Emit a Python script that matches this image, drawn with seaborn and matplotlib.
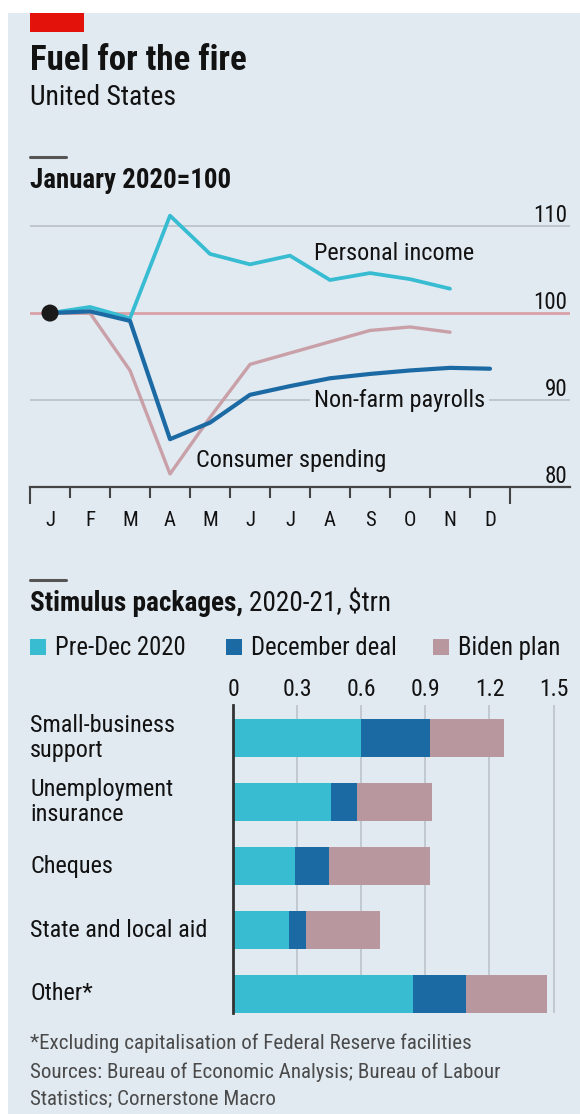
import numpy as np
import pandas as pd
import matplotlib
matplotlib.use("Agg")
import matplotlib.pyplot as plt
import seaborn as sns
from matplotlib import font_manager, transforms
from matplotlib.patches import Rectangle
from matplotlib.lines import Line2D

# ---------------- data ----------------
months = ["J", "F", "M", "A", "M", "J", "J", "A", "S", "O", "N", "D"]
personal_income = [100.0, 100.7, 99.4, 111.2, 106.8, 105.6, 106.6, 103.8, 104.6, 103.9, 102.8]
nonfarm_payrolls = [100.0, 100.2, 99.1, 85.5, 87.4, 90.6, 91.6, 92.5, 93.0, 93.4, 93.7, 93.6]
consumer_spending = [100.0, 100.0, 93.4, 81.5, 88.0, 94.1, 95.4, 96.7, 98.0, 98.4, 97.8]
index_ticks = [80, 90, 100, 110]

categories = ["Small-business\nsupport", "Unemployment\ninsurance", "Cheques",
              "State and local aid", "Other*"]
pre_dec_2020 = [0.60, 0.46, 0.29, 0.26, 0.84]
december_deal = [0.32, 0.12, 0.16, 0.08, 0.25]
biden_plan = [0.35, 0.35, 0.47, 0.35, 0.38]
trn_ticks = [0, 0.3, 0.6, 0.9, 1.2, 1.5]
trn_labels = ["0", "0.3", "0.6", "0.9", "1.2", "1.5"]

# ---------------- style ----------------
BG = "#e1e9f1"
CYAN = "#37bcd2"
DARK = "#1c6aa4"
PINK_BAR = "#b9979f"
PINK_LINE = "#c9a0a8"
RED_LINE = "#d9a2a8"
GRID = "#bfc6ce"
TEXT = "#121212"
NOTE = "#4a4a4a"


def pick_font(cands):
    for c in cands:
        try:
            font_manager.findfont(font_manager.FontProperties(family=c),
                                  fallback_to_default=False)
            return c
        except Exception:
            pass
    return "DejaVu Sans"


FONT = pick_font(["Liberation Sans Narrow", "Roboto Condensed", "Open Sans Condensed", "Lato"])

sns.set_theme(style="white")
plt.rcParams["font.family"] = [FONT, "DejaVu Sans"]

W, H = 580, 1114
fig = plt.figure(figsize=(W / 100, H / 100), dpi=100)
fig.patch.set_facecolor("white")


def rect(x0, y0, x1, y1):
    return [x0 / W, 1 - y1 / H, (x1 - x0) / W, (y1 - y0) / H]


def fx(x):
    return x / W


def fy(y):
    return 1 - y / H


# panel background and red tag
fig.add_artist(Rectangle((fx(8), 0), 1 - fx(8), fy(13), transform=fig.transFigure,
                         facecolor=BG, edgecolor="none", zorder=0))
fig.add_artist(Rectangle((fx(30), fy(32)), fx(84) - fx(30), fy(13) - fy(32),
                         transform=fig.transFigure, facecolor="#e3120b",
                         edgecolor="none", zorder=1))

fig.canvas.draw()
renderer = fig.canvas.get_renderer()


def size_for(s, width_px, weight="normal"):
    t = fig.text(0, 0, s, fontsize=20, fontweight=weight)
    w = t.get_window_extent(renderer=renderer).width
    t.remove()
    return 20 * width_px / w


fs_title = size_for("Fuel for the fire", 216, "bold")
fs_sub = size_for("United States", 146)
fs_head = size_for("January 2020=100", 201, "semibold")
fs_line_lab = size_for("Personal income", 160)
fs_axis = size_for("110", 34)
fs_cat = size_for("State and local aid", 177)
fs_leg = size_for("December deal", 146)
fs_note = size_for("Sources: Bureau of Economic Analysis; Bureau of Labour", 470)

# ---------------- header ----------------
fig.text(fx(30), fy(70), "Fuel for the fire", fontsize=fs_title, fontweight="bold",
         color=TEXT, va="baseline")
fig.text(fx(30), fy(105), "United States", fontsize=fs_sub, color=TEXT, va="baseline")
fig.add_artist(Line2D([fx(30), fx(66)], [fy(157), fy(157)], transform=fig.transFigure,
                      color="#555555", lw=2.2))
fig.text(fx(30), fy(188), "January 2020=100", fontsize=fs_head, fontweight="semibold",
         color=TEXT, va="baseline")

# ---------------- line chart ----------------
ax1 = fig.add_axes(rect(30, 200, 570, 487))
ax1.set_facecolor("none")
ax1.set_xlim(0, 13.5)
ax1.set_ylim(80, 113)

for v in index_ticks[1:]:
    if v == 100:
        ax1.axhline(v, color=RED_LINE, lw=2.0, zorder=1)
    else:
        ax1.axhline(v, color=GRID, lw=1.4, zorder=1)
for v in index_ticks:
    ax1.text(13.43, v + 0.45, str(v), ha="right", va="baseline",
             fontsize=fs_axis, color=TEXT)

series = [
    ("Consumer spending", consumer_spending, PINK_LINE, 2.4, 3),
    ("Personal income", personal_income, CYAN, 2.7, 4),
    ("Non-farm payrolls", nonfarm_payrolls, DARK, 3.0, 5),
]
for name, vals, col, lw, z in series:
    d = pd.DataFrame({"pos": np.arange(len(vals)) + 0.5, "value": vals})
    sns.lineplot(data=d, x="pos", y="value", color=col, lw=lw, ax=ax1, zorder=z)

start = pd.DataFrame({"pos": [0.5], "value": [personal_income[0]]})
sns.scatterplot(data=start, x="pos", y="value", color="#1a1a1a", s=150,
                edgecolor="none", ax=ax1, zorder=6)

ax1.text(7.1, 106.9, "Personal income", fontsize=fs_line_lab, color=TEXT,
         va="center", ha="left", zorder=7)
ax1.text(7.1, 90.0, "Non-farm payrolls", fontsize=fs_line_lab, color=TEXT,
         va="center", ha="left", zorder=2,
         bbox=dict(facecolor=BG, edgecolor="none", pad=3))
ax1.text(4.15, 83.0, "Consumer spending", fontsize=fs_line_lab, color=TEXT,
         va="center", ha="left", zorder=7)

ax1.set_xlabel("")
ax1.set_ylabel("")
ax1.set_yticks([])
for s in ["top", "right", "left"]:
    ax1.spines[s].set_visible(False)
ax1.spines["bottom"].set_color("#444444")
ax1.spines["bottom"].set_linewidth(1.6)
ax1.set_xticks(np.arange(13))
ax1.set_xticklabels([""] * 13)
ax1.set_xticks(np.arange(12) + 0.5, months, minor=True)
ax1.tick_params(axis="x", which="major", direction="out", length=8, width=1.5,
                color="#444444", bottom=True)
ax1.tick_params(axis="x", which="minor", length=0, pad=17, labelsize=fs_axis * 0.9,
                labelcolor=TEXT)
for i, tk in enumerate(ax1.xaxis.get_major_ticks()):
    if i in (0, 12):
        tk.tick1line.set_markersize(12)

# ---------------- stimulus header & legend ----------------
fig.add_artist(Line2D([fx(30), fx(66)], [fy(580), fy(580)], transform=fig.transFigure,
                      color="#555555", lw=2.2))
t_bold = fig.text(fx(30), fy(611), "Stimulus packages,", fontsize=fs_leg * 1.1,
                  fontweight="bold", color=TEXT, va="baseline")
bb = t_bold.get_window_extent(renderer=renderer)
fig.text((bb.x1 + 6) / W, fy(611), "2020-21, $trn", fontsize=fs_leg * 1.1,
         color=TEXT, va="baseline")

legend_items = [("Pre-Dec 2020", CYAN, 30), ("December deal", DARK, 226),
                ("Biden plan", PINK_BAR, 433)]
for label, col, x0 in legend_items:
    fig.add_artist(Rectangle((fx(x0), fy(655)), 16 / W, 16 / H, transform=fig.transFigure,
                             facecolor=col, edgecolor="none"))
    fig.text(fx(x0 + 25), fy(655), label, fontsize=fs_leg, color=TEXT, va="baseline")

# ---------------- stacked bars ----------------
ax2 = fig.add_axes(rect(233, 705, 564, 1013))
ax2.set_facecolor("none")
cum_deal = [p + d for p, d in zip(pre_dec_2020, december_deal)]
cum_all = [c + b for c, b in zip(cum_deal, biden_plan)]
for vals, col in [(cum_all, PINK_BAR), (cum_deal, DARK), (pre_dec_2020, CYAN)]:
    sns.barplot(x=vals, y=categories, orient="h", color=col, saturation=1,
                width=0.58, linewidth=0, edgecolor="none", ax=ax2, zorder=3)

ax2.set_xlim(0, 331 / 213.7)
ax2.set_ylim(4.297, -0.516)
ax2.set_xticks(trn_ticks, trn_labels)
ax2.xaxis.tick_top()
ax2.tick_params(axis="x", length=0, pad=3, labelsize=fs_cat * 0.98, labelcolor=TEXT)
ax2.set_yticks([])
ax2.grid(axis="x", color=GRID, lw=1.3)
ax2.grid(axis="y", visible=False)
ax2.set_axisbelow(True)
ax2.set_xlabel("")
ax2.set_ylabel("")
for s in ["top", "right", "bottom"]:
    ax2.spines[s].set_visible(False)
ax2.spines["left"].set_color("#333333")
ax2.spines["left"].set_linewidth(2)
ax2.spines["left"].set_zorder(5)

lab_tr = transforms.blended_transform_factory(fig.transFigure, ax2.transData)
for i, c in enumerate(categories):
    ax2.text(fx(30), i, c, transform=lab_tr, ha="left", va="center",
             fontsize=fs_cat, color=TEXT, linespacing=1.15)

# ---------------- notes ----------------
notes = [
    (1049, "*Excluding capitalisation of Federal Reserve facilities"),
    (1078, "Sources: Bureau of Economic Analysis; Bureau of Labour"),
    (1104, "Statistics; Cornerstone Macro"),
]
for y, s in notes:
    fig.text(fx(30), fy(y), s, fontsize=fs_note, color=NOTE, va="baseline")

fig.savefig("out.png", dpi=100, facecolor=fig.get_facecolor())
